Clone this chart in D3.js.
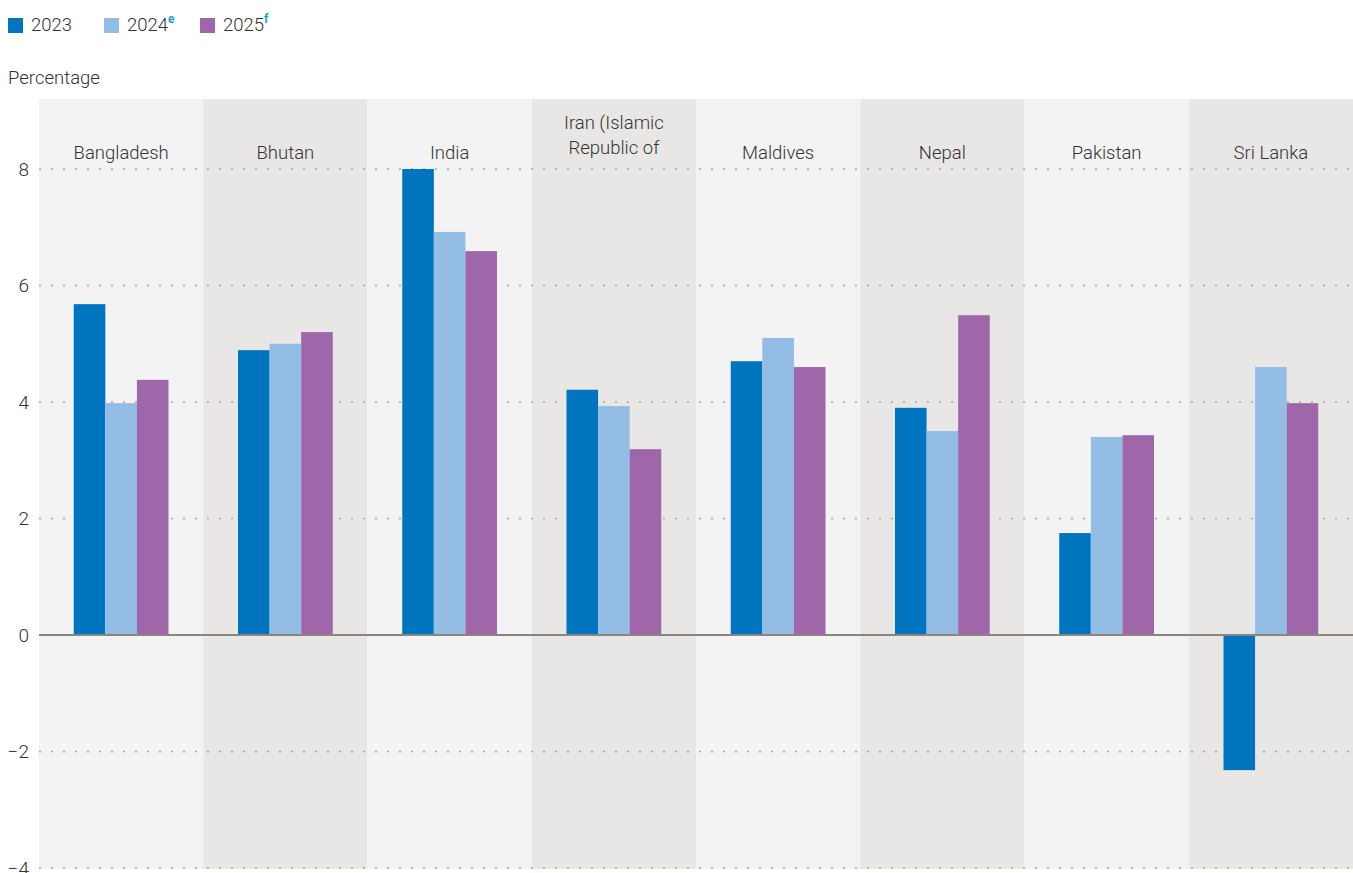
<!DOCTYPE html>
<html><head><meta charset="utf-8">
<script src="https://cdn.jsdelivr.net/npm/d3@7"></script>
<style>body{margin:0;background:#fff;font-family:Roboto,sans-serif;} text{font-weight:300;}</style>
</head><body><svg id="c" width="1353" height="873"></svg>
<script>
const categories = ["Bangladesh","Bhutan","India","Iran (Islamic Republic of","Maldives","Nepal","Pakistan","Sri Lanka"];
const categoryLines = [["Bangladesh"],["Bhutan"],["India"],["Iran (Islamic","Republic of"],["Maldives"],["Nepal"],["Pakistan"],["Sri Lanka"]];
const seriesNames = ["2023","2024","2025"];
const seriesSup = ["","e","f"];
const v2023 = [5.68, 4.89, 8.0, 4.21, 4.70, 3.90, 1.75, -2.32];
const v2024 = [3.98, 5.0, 6.92, 3.93, 5.10, 3.50, 3.40, 4.60];
const v2025 = [4.38, 5.2, 6.59, 3.19, 4.60, 5.49, 3.43, 3.98];
const yTicks = [-4,-2,0,2,4,6,8];
const colors = ["#0075bf","#93bde4","#a066aa"];
const panelColors = ["#f3f3f3","#e8e7e6"];

const series = [v2023, v2024, v2025];
const svg = d3.select("#c");
const L = 39, R = 1353, T = 99, B = 869;
const x = d3.scaleBand().domain(categories).range([L, R]).padding(0);
const x1 = d3.scaleBand().domain(seriesNames).range([0, x.bandwidth()]).paddingOuter(1.1).paddingInner(0);
const y = d3.scaleLinear().domain([-4.0, (635-99)/58.25]).range([635 + 4*58.25, 99]);

// panels
svg.append("g").selectAll("rect").data(categories).join("rect")
  .attr("x", d => x(d)).attr("y", T).attr("width", x.bandwidth()).attr("height", B - T)
  .attr("fill", (d,i) => panelColors[i % 2]);

// grid
svg.append("g").selectAll("line").data(yTicks.filter(t => t !== 0)).join("line")
  .attr("x1", L).attr("x2", R).attr("y1", d => y(d)).attr("y2", d => y(d))
  .attr("stroke", "#a8a6a4").attr("stroke-width", 1.3).attr("stroke-dasharray", "2,10");

// y axis labels
const yAxis = d3.axisLeft(y).tickValues(yTicks).tickSize(0).tickPadding(0);
const ya = svg.append("g").attr("transform", `translate(29,0)`).call(yAxis);
ya.select(".domain").remove();
ya.selectAll("text").attr("font-size", 19).attr("fill", "#333").attr("font-family", "Roboto, sans-serif").attr("font-weight", 300);

// bars
const g = svg.append("g");
categories.forEach((c, ci) => {
  series.forEach((s, si) => {
    const v = s[ci];
    g.append("rect")
      .attr("x", x(c) + x1(seriesNames[si]))
      .attr("width", x1.bandwidth())
      .attr("y", y(Math.max(0, v)))
      .attr("height", Math.abs(y(v) - y(0)))
      .attr("fill", colors[si]);
  });
});

// zero line
svg.append("line").attr("x1", L).attr("x2", R).attr("y1", y(0)).attr("y2", y(0))
  .attr("stroke", "#8a8581").attr("stroke-width", 2);

// category labels
const lab = svg.append("g");
categories.forEach((c, ci) => {
  const lines = categoryLines[ci];
  const baseY = lines.length === 1 ? 159 : 129;
  lines.forEach((ln, li) => {
    lab.append("text").attr("x", x(c) + x.bandwidth()/2).attr("y", baseY + li*25)
      .attr("text-anchor", "middle").attr("font-size", 18.5).attr("fill", "#333").text(ln);
  });
});

// legend
const legX = [8, 104, 200];
seriesNames.forEach((n, i) => {
  svg.append("rect").attr("x", legX[i]).attr("y", 18).attr("width", 15).attr("height", 15).attr("fill", colors[i]);
  const t = svg.append("text").attr("x", legX[i] + 23).attr("y", 31).attr("font-size", 18.5).attr("fill", "#333").text(n);
  if (seriesSup[i]) {
    t.append("tspan").attr("dy", -8).attr("font-size", 12).attr("font-weight", "bold").attr("fill", "#1a9fe0").text(seriesSup[i]);
  }
});

svg.append("text").attr("x", 8).attr("y", 84).attr("font-size", 18.5).attr("fill", "#333").text("Percentage");
</script></body></html>
